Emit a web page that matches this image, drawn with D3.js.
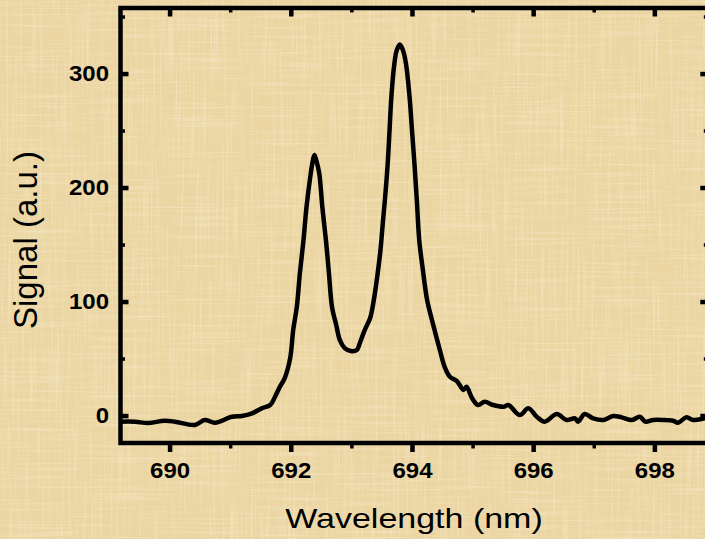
<!DOCTYPE html>
<html>
<head>
<meta charset="utf-8">
<script src="https://cdn.jsdelivr.net/npm/d3@7"></script>
<style>
  html, body { margin: 0; padding: 0; background: #ebd5a2; }
  svg { display: block; }
  text { font-family: "Liberation Sans", Arial, Helvetica, sans-serif; fill: #000; }
</style>
</head>
<body>
<svg id="chart" width="705" height="539"></svg>
<script>
// Ruby fluorescence spectrum (R1 / R2 lines)
const wavelength = [
  689.18, 689.43, 689.64, 689.92, 690.09, 690.42, 690.58, 690.75, 691.03, 691.19,
  691.36, 691.52, 691.66, 691.74, 691.82, 691.90, 691.99, 692.04, 692.10, 692.15,
  692.21, 692.26, 692.33, 692.36, 692.39, 692.42, 692.47, 692.52, 692.58, 692.63,
  692.68, 692.75, 692.81, 692.89, 692.99, 693.09, 693.14, 693.22, 693.31, 693.37,
  693.43, 693.48, 693.52, 693.56, 693.60, 693.63, 693.66, 693.71, 693.75, 693.80,
  693.85, 693.90, 693.96, 694.00, 694.04, 694.08, 694.12, 694.18, 694.25, 694.33,
  694.46, 694.54, 694.63, 694.74, 694.85, 694.90, 694.99, 695.09, 695.20, 695.34,
  695.51, 695.59, 695.78, 695.92, 696.06, 696.19, 696.39, 696.55, 696.69, 696.74,
  696.85, 696.99, 697.16, 697.32, 697.46, 697.63, 697.76, 697.85, 697.98, 698.15,
  698.31, 698.39, 698.53, 698.64, 698.83, 698.88
];
const signal = [
  -5.4, -5.4, -6.6, -4.6, -5.4, -8.3, -3.9, -6.3, -1.1, -0.4,
  1.9, 6.3, 9.2, 16.5, 25.3, 32.9, 50.4, 75.0, 95.4, 124.7,
  153.9, 183.2, 212.5, 222.4, 228.5, 224.1, 212.5, 183.2, 153.9, 124.7,
  95.4, 79.4, 66.2, 59.2, 56.6, 57.5, 63.6, 75.0, 85.5, 101.3,
  123.2, 145.2, 169.7, 193.4, 221.5, 250.4, 279.6, 308.9, 320.6, 325.4,
  320.6, 308.9, 279.6, 250.4, 221.5, 189.0, 153.9, 127.6, 101.3, 83.8,
  57.5, 42.5, 33.8, 30.3, 22.4, 25.3, 15.4, 9.2, 12.1, 9.2,
  7.7, 9.2, 0.4, 6.3, -1.1, -5.4, 1.3, -3.9, -2.5, -5.4,
  1.3, -2.5, -3.9, -0.4, -1.6, -3.9, -1.1, -5.4, -3.9, -3.9,
  -4.6, -6.3, -1.6, -3.9, -2.5, -2.2
];

const xTicks = [690, 692, 694, 696, 698];
const xMinorTicks = [691, 693, 695, 697];
const yTicks = [0, 100, 200, 300];
const yMinorTicks = [50, 150, 250, 350];
const xDomain = [689.19, 698.89];
const yDomain = [-24.1, 357.5];
const xTitle = "Wavelength (nm)";
const yTitle = "Signal (a.u.)";

const W = 705, H = 539;
const plot = { left: 120.5, right: 708.3, top: 8, bottom: 443 };

const svg = d3.select("#chart");
const defs = svg.append("defs");

// Papyrus-like paper: fibre streaks in two directions plus soft blotches
function fibreFilter(id, freq, seed, rgb, gain, offset) {
  const f = defs.append("filter").attr("id", id)
    .attr("x", 0).attr("y", 0).attr("width", "100%").attr("height", "100%");
  f.append("feTurbulence").attr("type", "fractalNoise")
    .attr("baseFrequency", freq).attr("numOctaves", 2).attr("seed", seed)
    .attr("result", "n");
  f.append("feColorMatrix").attr("type", "matrix")
    .attr("values", `0 0 0 0 ${rgb[0]}  0 0 0 0 ${rgb[1]}  0 0 0 0 ${rgb[2]}  ${gain} 0 0 0 ${offset}`);
}
fibreFilter("fibreV", "0.45 0.012", 4, [1, 0.95, 0.82], 1.6, -0.78);
fibreFilter("fibreH", "0.012 0.45", 9, [1, 0.94, 0.8], 1.6, -0.80);
fibreFilter("fibreVd", "0.5 0.02", 13, [0.8, 0.66, 0.36], 1.4, -0.72);
fibreFilter("fibreHd", "0.02 0.5", 21, [0.8, 0.66, 0.36], 1.4, -0.74);
fibreFilter("blotch", "0.006 0.01", 7, [0.86, 0.72, 0.4], 1.2, -0.5);

svg.append("rect").attr("width", W).attr("height", H).attr("fill", "#ebd5a2");
svg.append("rect").attr("width", W).attr("height", H).attr("filter", "url(#blotch)").attr("opacity", 0.45);
svg.append("rect").attr("width", W).attr("height", H).attr("filter", "url(#fibreVd)").attr("opacity", 0.3);
svg.append("rect").attr("width", W).attr("height", H).attr("filter", "url(#fibreHd)").attr("opacity", 0.3);
svg.append("rect").attr("width", W).attr("height", H).attr("filter", "url(#fibreV)").attr("opacity", 0.5);
svg.append("rect").attr("width", W).attr("height", H).attr("filter", "url(#fibreH)").attr("opacity", 0.5);

const x = d3.scaleLinear().domain(xDomain).range([plot.left, plot.right]);
const y = d3.scaleLinear().domain(yDomain).range([plot.bottom, plot.top]);

defs.append("clipPath").attr("id", "plotClip")
  .append("rect")
  .attr("x", plot.left).attr("y", plot.top)
  .attr("width", plot.right - plot.left).attr("height", plot.bottom - plot.top);

// Spectrum trace
const line = d3.line()
  .x((d, i) => x(wavelength[i]))
  .y(d => y(d))
  .curve(d3.curveCatmullRom.alpha(0.5));

svg.append("path")
  .datum(signal)
  .attr("clip-path", "url(#plotClip)")
  .attr("d", line)
  .attr("fill", "none")
  .attr("stroke", "#000")
  .attr("stroke-width", 4.5)
  .attr("stroke-linejoin", "round")
  .attr("stroke-linecap", "round");

// Axes: ticks only, the frame is drawn as one rectangle
function styleTicks(g, width) {
  g.select(".domain").remove();
  g.selectAll(".tick line").attr("stroke", "#000").attr("stroke-width", width);
}

const fmt = d3.format("d");

// bottom: outward ticks with labels
const gBottom = svg.append("g").attr("transform", `translate(0,${plot.bottom})`)
  .call(d3.axisBottom(x).tickValues(xTicks).tickSize(9).tickFormat(fmt));
styleTicks(gBottom, 4.5);
gBottom.selectAll(".tick text")
  .attr("y", null).attr("dy", null)
  .attr("transform", "translate(0,35.3) scale(1,0.9)")
  .attr("text-anchor", "middle")
  .style("font-size", "24px").style("font-weight", "bold");

const gBottomMinor = svg.append("g").attr("transform", `translate(0,${plot.bottom})`)
  .call(d3.axisBottom(x).tickValues(xMinorTicks).tickSize(5.5).tickFormat(""));
styleTicks(gBottomMinor, 3.5);

// top: inward ticks
const gTop = svg.append("g").attr("transform", `translate(0,${plot.top})`)
  .call(d3.axisTop(x).tickValues(xTicks).tickSize(-8.5).tickFormat(""));
styleTicks(gTop, 4.5);
const gTopMinor = svg.append("g").attr("transform", `translate(0,${plot.top})`)
  .call(d3.axisTop(x).tickValues(xMinorTicks).tickSize(-4.5).tickFormat(""));
styleTicks(gTopMinor, 3.5);

// left: inward ticks with labels
const gLeft = svg.append("g").attr("transform", `translate(${plot.left},0)`)
  .call(d3.axisLeft(y).tickValues(yTicks).tickSize(-8).tickFormat(fmt));
styleTicks(gLeft, 4.5);
gLeft.selectAll(".tick text")
  .attr("x", null).attr("dy", null)
  .attr("transform", "translate(-11.5,6.8) scale(1,0.9)")
  .attr("text-anchor", "end")
  .style("font-size", "24px").style("font-weight", "bold");

const gLeftMinor = svg.append("g").attr("transform", `translate(${plot.left},0)`)
  .call(d3.axisLeft(y).tickValues(yMinorTicks).tickSize(-4.5).tickFormat(""));
styleTicks(gLeftMinor, 3.5);

// right: inward ticks
const gRight = svg.append("g").attr("transform", `translate(${plot.right},0)`)
  .call(d3.axisRight(y).tickValues(yTicks).tickSize(-8).tickFormat(""));
styleTicks(gRight, 4.5);
const gRightMinor = svg.append("g").attr("transform", `translate(${plot.right},0)`)
  .call(d3.axisRight(y).tickValues(yMinorTicks).tickSize(-4.5).tickFormat(""));
styleTicks(gRightMinor, 3.5);

// frame
svg.append("rect")
  .attr("x", plot.left).attr("y", plot.top)
  .attr("width", plot.right - plot.left).attr("height", plot.bottom - plot.top)
  .attr("fill", "none").attr("stroke", "#000").attr("stroke-width", 4.5);

// axis titles
svg.append("text")
  .attr("transform", "translate(414,528) scale(1,0.82)")
  .attr("text-anchor", "middle")
  .style("font-size", "34px")
  .text(xTitle);

svg.append("text")
  .attr("transform", "translate(37,240) rotate(-90)")
  .attr("text-anchor", "middle")
  .style("font-size", "33px")
  .text(yTitle);
</script>
</body>
</html>
